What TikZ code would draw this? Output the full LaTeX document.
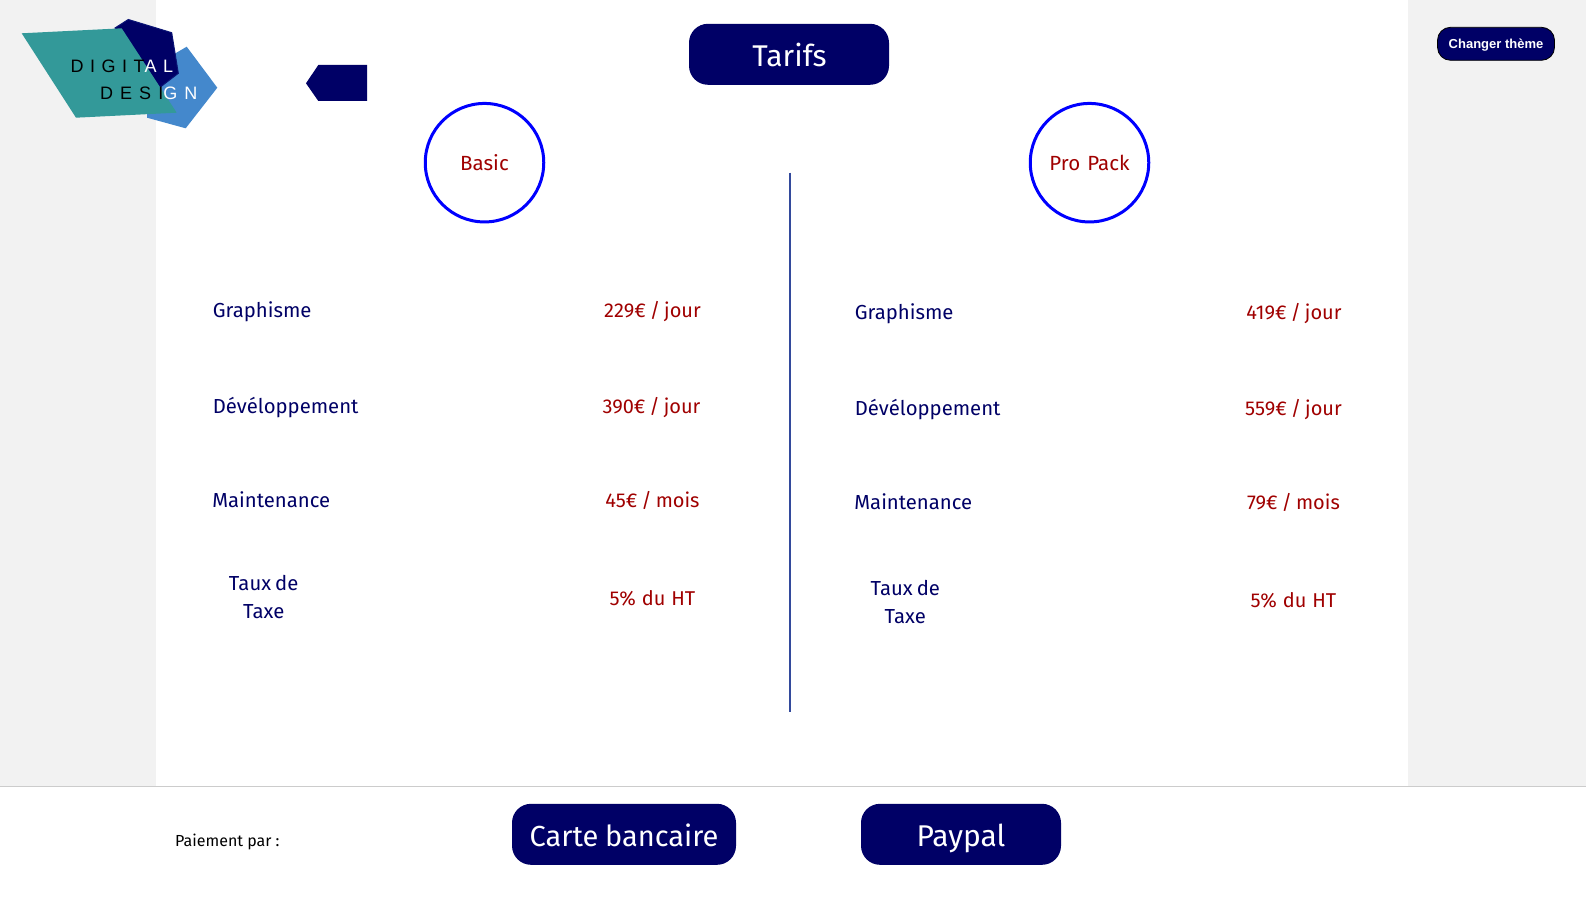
\documentclass[tikz,border=0pt]{standalone}
\usepackage{fontspec}
\setmainfont[WordSpace=0.75]{Fira Sans}
\newfontfamily\logofonta[LetterSpace=36]{Liberation Sans}
\newfontfamily\logofontb[LetterSpace=39]{Liberation Sans}
\newfontfamily\arialfont{Liberation Sans}
\definecolor{navy}{HTML}{000066}
\definecolor{darkred}{HTML}{A00000}
\definecolor{pagegrey}{HTML}{F2F2F2}
\definecolor{teal1}{HTML}{339999}
\definecolor{blue1}{HTML}{4488CC}
\definecolor{rulecol}{HTML}{334A9C}
\tikzset{
  bigbtn/.style={fill=navy,text=white,rounded corners=19pt,inner sep=0pt,text height=26pt,text depth=1.2pt,font=\fontsize{30}{36}\selectfont},
  lab/.style={inner sep=0pt,text=navy,font=\fontsize{20.3}{24}\selectfont},
  price/.style={inner sep=0pt,text=darkred,font=\fontsize{20}{24}\selectfont},
  plan/.style={circle,draw=blue,line width=3pt,minimum size=118.5pt,inner sep=0pt,text=darkred,text height=16pt,text depth=0pt,font=\fontsize{20.5}{24}\selectfont},
  logotxt/.style={inner sep=0pt}
}
\begin{document}
\begin{tikzpicture}[x=1pt,y=-1pt]
\useasboundingbox (0,0) rectangle (1586,901);
\fill[white] (0,0) rectangle (1586,901);
\fill[pagegrey] (0,0) rectangle (156,786);
\fill[pagegrey] (1408,0) rectangle (1586,786);
\draw[color=black!20,line width=1pt] (0,786.5) -- (1586,786.5);
% logo
\fill[blue1] (186.7,46.7) -- (217.3,87.7) -- (185.7,128.3) -- (147,117.7) -- (147,70) -- cycle;
\filldraw[fill=navy,draw=navy!85!blue1,line width=1pt] (128.3,19.5) -- (171.7,32.7) -- (178.3,73.3) -- (160,87.3) -- (130,60) -- (115,28) -- cycle;
\fill[teal1] (21.7,33.3) -- (121.7,28.3) -- (176.7,112.7) -- (76,117.7) -- cycle;
\node[logotxt,anchor=base west,font=\logofonta\fontsize{18}{22}\selectfont] (logoa) at (70.5,72.3) {DIGIT\textcolor{white}{AL}};
\node[logotxt,anchor=base west,font=\logofontb\fontsize{18}{22}\selectfont] (logob) at (100,99.3) {DESI\textcolor{white}{GN}};
% back shape
\fill[navy] (318.3,65) -- (367,65) -- (367,101) -- (318.3,101) -- (306,83.3) -- cycle;
% buttons
\node[bigbtn,minimum width=200pt,minimum height=61pt] (tarifs) at (789,54.3) {\hspace{1pt}Tarifs};
\node[bigbtn,minimum width=224pt,minimum height=61pt,text height=25pt,font=\fontsize{29}{36}\selectfont] (carte) at (624,834.3) {Carte\hspace{1pt} bancaire};
\node[bigbtn,minimum width=200pt,minimum height=61pt] (paypal) at (961,834.3) {Paypal};
\node[fill=navy,draw=black,line width=0.8pt,rounded corners=13pt,minimum width=117pt,minimum height=33pt,inner sep=0pt,text=white,text height=9pt,text depth=0pt,font=\arialfont\bfseries\fontsize{13}{16}\selectfont] (theme) at (1496,43.8) {Changer thème};
\node[inner sep=0pt,anchor=base west,font=\fontsize{16}{20}\selectfont] (paiement) at (175,846.2) {Paiement\hspace{1pt} par\hspace{1pt} :};
% plans
\node[plan] (basic) at (484.5,162.7) {Basic};
\node[plan] (pro) at (1089.5,162.7) {Pro\hspace{3pt} Pack};
\coordinate (ruletop) at (790,172.7);
\coordinate (rulebot) at (790,711.5);
\draw[rulecol,line width=2pt] (ruletop) -- (rulebot);
% left column
\node[lab,anchor=base west] (g1) at (212.7,317.4) {Graphisme};
\node[lab,anchor=base west] (d1) at (212.7,413.1) {Dévéloppement};
\node[lab,anchor=base west] (m1) at (212.2,507.1) {Maintenance};
\node[lab,anchor=base] (t1a) at (263.7,590.7) {Taux de};
\node[lab,anchor=base] (t1b) at (263.7,618.7) {Taxe};
\node[price,anchor=base] (pg1) at (652.5,317.4) {229€ / jour};
\node[price,anchor=base] (pd1) at (651.5,413.1) {390€ / jour};
\node[price,anchor=base] (pm1) at (652.5,507.1) {45€ / mois};
\node[price,anchor=base] (pt1) at (652.5,605) {5\%\hspace{2pt} du\hspace{2pt} HT};
% right column
\node[lab,anchor=base west] (g2) at (854.7,319) {Graphisme};
\node[lab,anchor=base west] (d2) at (854.7,415) {Dévéloppement};
\node[lab,anchor=base west] (m2) at (854.2,509) {Maintenance};
\node[lab,anchor=base] (t2a) at (905.3,595) {Taux de};
\node[lab,anchor=base] (t2b) at (905.3,623) {Taxe};
\node[price,anchor=base] (pg2) at (1294,319) {419€ / jour};
\node[price,anchor=base] (pd2) at (1293.5,415) {559€ / jour};
\node[price,anchor=base] (pm2) at (1293.5,509) {79€ / mois};
\node[price,anchor=base] (pt2) at (1293.5,607.7) {5\%\hspace{2pt} du\hspace{2pt} HT};
\end{tikzpicture}
\end{document}
